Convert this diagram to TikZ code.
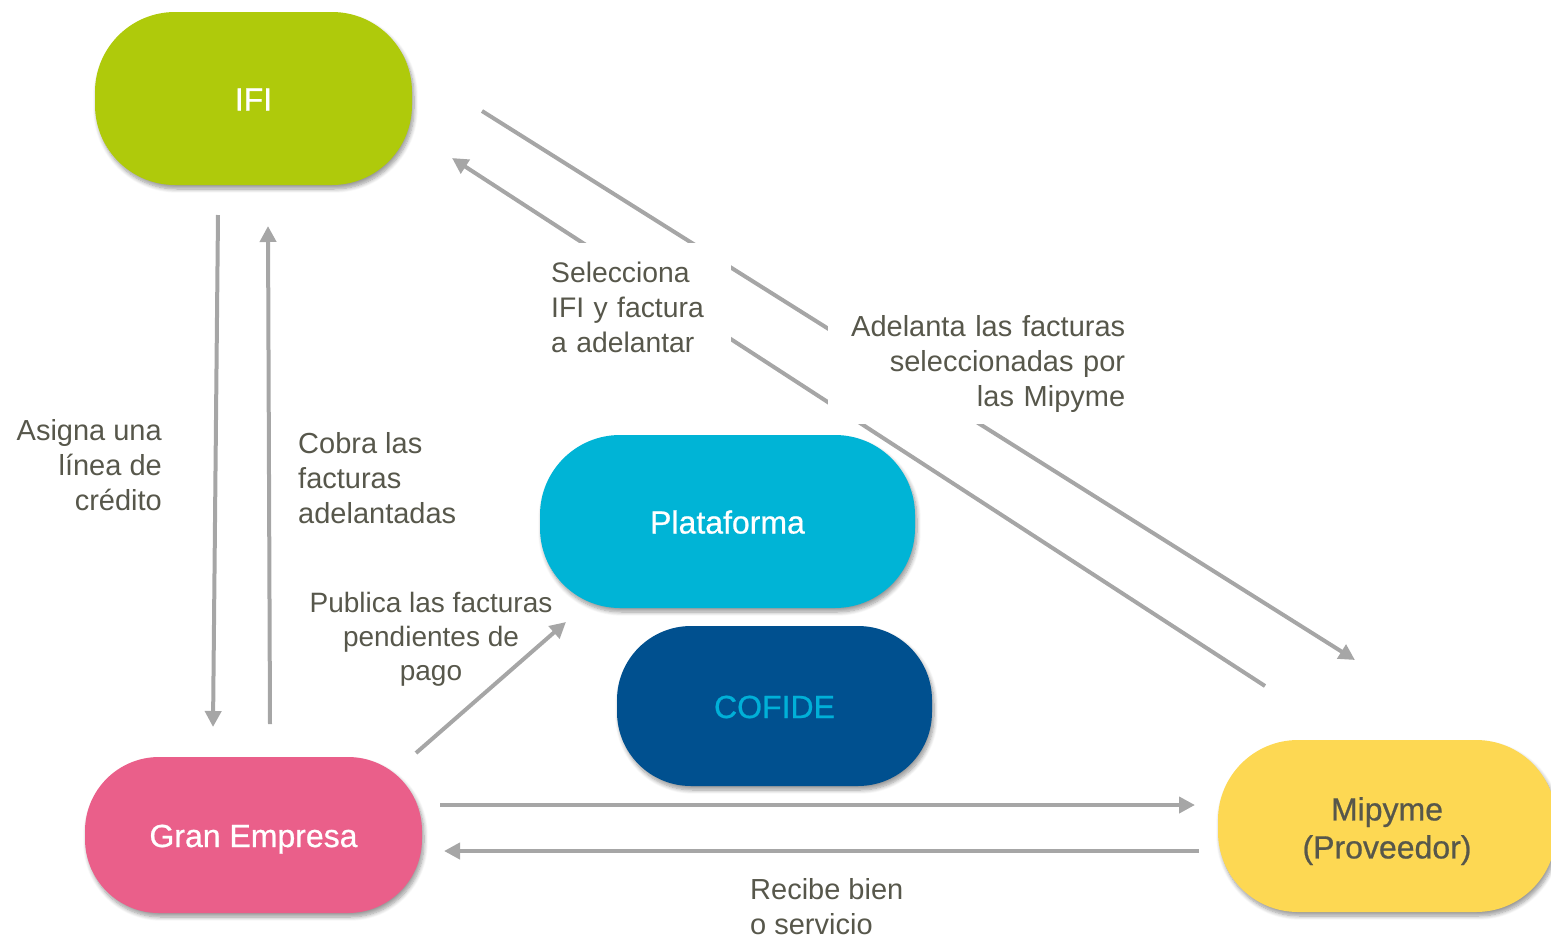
\documentclass[tikz,border=0pt]{standalone}
\usepackage{fontspec}
\setmainfont{Liberation Sans}
\newfontfamily\nodefont[FakeBold=0.7]{Liberation Sans}
\usetikzlibrary{arrows.meta,shadows.blur}
\definecolor{ifigreen}{RGB}{175,202,11}
\definecolor{platcyan}{RGB}{0,180,214}
\definecolor{cofideblue}{RGB}{0,80,143}
\definecolor{cofidetext}{RGB}{0,176,216}
\definecolor{granpink}{RGB}{234,95,138}
\definecolor{mipyellow}{RGB}{253,216,83}
\definecolor{arrowgray}{RGB}{166,166,166}
\definecolor{txtgray}{RGB}{87,87,75}
\begin{document}
\begin{tikzpicture}[x=1pt,y=-1pt,
  blob/.style={rectangle, rounded corners=#1, inner sep=0pt, align=center,
    font=\nodefont\fontsize{32}{38}\selectfont,
    blur shadow={shadow xshift=2pt,shadow yshift=-4pt,shadow blur radius=4pt,shadow blur steps=8,shadow opacity=40}},
  oneline/.style={text height=24pt, text depth=0pt},
  lbl/.style={inner sep=0pt, text=txtgray, font=\fontsize{29}{35}\selectfont},
  flow/.style={draw=arrowgray, line width=4pt, -{Triangle[length=16pt,width=16pt]}}]
\useasboundingbox (0,0) rectangle (1551,938);

% main shapes
\node[blob=80pt, oneline, fill=ifigreen, text=white, minimum width=317pt, minimum height=173pt] (ifi) at (253.5,98.5) {IFI};
\node[blob=80pt, oneline, fill=platcyan, text=white, minimum width=375pt, minimum height=173pt] (plat) at (727.5,521.5) {Plataforma};
\node[blob=74pt, oneline, fill=cofideblue, text=cofidetext, minimum width=315pt, minimum height=160pt] (cofide) at (774.5,706) {COFIDE};
\node[blob=74pt, oneline, fill=granpink, text=white, minimum width=337pt, minimum height=156pt] (gran) at (253.5,835) {Gran Empresa};
\node[blob=80pt, oneline, fill=mipyellow, text=txtgray, minimum width=338pt, minimum height=172pt] (mip) at (1387,826) {\begin{tabular}{@{}c@{}}Mipyme\\(Proveedor)\end{tabular}};

% connector end points
\coordinate (a1s) at (218,215);  \coordinate (a1e) at (213,727);
\coordinate (a2s) at (270,724);  \coordinate (a2e) at (268,226);
\coordinate (a3s) at (482,111);  \coordinate (a3e) at (1355,660);
\coordinate (a4s) at (1265,686); \coordinate (a4e) at (452,158);
\coordinate (a5s) at (416,753);  \coordinate (a5e) at (566,622);
\coordinate (a6s) at (440,805);  \coordinate (a6e) at (1195,805);
\coordinate (a7s) at (1199,851); \coordinate (a7e) at (444,851);

% connectors
\draw[flow] (a1s) -- (a1e);
\draw[flow] (a2s) -- (a2e);
\draw[flow] (a3s) -- (a3e);
\draw[flow] (a4s) -- (a4e);
\draw[flow] (a5s) -- (a5e);
\draw[flow] (a6s) -- (a6e);
\draw[flow] (a7s) -- (a7e);

% labels
\node[lbl, anchor=north east, align=right] (lasigna) at (162,419) {Asigna una\\línea de\\crédito};
\node[lbl, anchor=north west, align=left] (lcobra) at (298,432) {Cobra las\\facturas\\adelantadas};
\node[lbl, anchor=north, align=center, font=\fontsize{28}{34}\selectfont] (lpublica) at (431,592) {Publica las facturas\\pendientes de\\pago};
\node[lbl, fill=white, anchor=north west, align=left, text width=174pt, inner xsep=6pt, inner ysep=19pt, font=\fontsize{28.3}{35}\selectfont] (lselecciona) at (545,243) {Selecciona\\IFI y factura\\a adelantar};
\node[lbl, fill=white, anchor=south west, align=right, text width=291pt, inner xsep=6pt, inner ysep=11pt] (ladelanta) at (828,424) {Adelanta las facturas\\seleccionadas por\\las Mipyme};
\node[lbl, anchor=north west, align=left] (lrecibe) at (750,878) {Recibe bien\\o servicio};
\end{tikzpicture}
\end{document}
